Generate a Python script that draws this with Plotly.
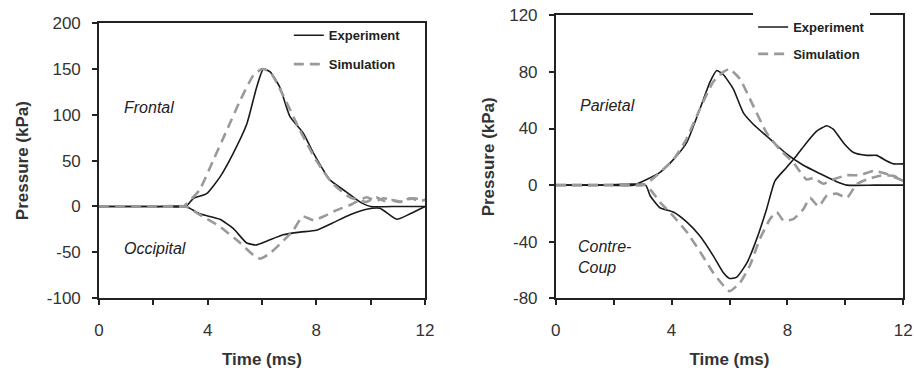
import plotly.graph_objects as go

# ---- Left panel: Frontal / Occipital ----
t_fe = [0, 2.0, 3.2, 3.47, 3.96, 4.45, 4.94, 5.44, 5.8, 6.05, 6.3, 6.66, 7.03, 7.52, 7.9, 8.5, 9.1, 9.6, 10.0, 11.0, 12]
p_fe = [0, 0, 0, 8.7, 14, 32, 58, 90, 130, 150, 147, 130, 98, 80, 58, 29, 16, 5, 0, 0, 0]

t_fs = [0, 2.0, 3.1, 3.23, 3.7, 4.2, 4.7, 5.2, 5.68, 6.0, 6.3, 6.8, 7.4, 8.0, 8.6, 9.24, 9.85, 10.2, 10.5, 10.8, 11.1, 11.45, 11.8, 12]
p_fs = [0, 0, 0, 3, 18, 50, 83, 116, 143, 150, 147, 120, 83, 50, 25, 10, 5, 10, 6, 7, 5, 9, 6, 7]

t_oe = [0, 2.0, 3.2, 3.7, 4.45, 4.94, 5.44, 5.8, 6.17, 6.78, 7.4, 8.0, 8.6, 9.24, 9.85, 10.34, 10.96, 11.45, 12]
p_oe = [0, 0, 0, -8, -14, -24, -40, -42, -38, -31, -28, -26, -18, -9, -3, -2, -14, -8, 0]

t_os = [0, 2.0, 3.2, 3.7, 4.45, 5.2, 5.68, 5.93, 6.3, 6.8, 7.15, 7.5, 7.9, 8.26, 8.75, 9.24, 9.85, 10.2, 10.47, 11.08, 11.57, 12]
p_os = [0, 0, 0, -9, -22, -40, -53, -57, -51, -37, -26, -11, -15, -11, -4, 1.5, 10, 6, 9, 5, 9, 7]

# ---- Right panel: Parietal / Contre-Coup ----
t_pe = [0, 1.5, 2.68, 3.14, 3.6, 4.06, 4.52, 4.98, 5.33, 5.56, 5.79, 6.13, 6.48, 6.82, 7.4, 7.97, 8.55, 9.13, 9.7, 10.05, 11.0, 12]
p_pe = [0, 0, 0, 4, 9, 18, 30, 54, 73, 81, 78, 68, 51, 43, 32.5, 22, 14, 8, 2.4, 0, 0, 0]

t_ps = [0, 1.5, 3.0, 3.14, 3.6, 4.06, 4.5, 4.98, 5.44, 5.79, 6.0, 6.36, 6.82, 7.28, 7.74, 8.2, 8.66, 8.9, 9.24, 9.58, 10.05, 10.5, 10.97, 11.4, 12]
p_ps = [0, 0, 0, 1, 9, 18, 32, 54, 73, 80, 82, 75, 56, 37, 25, 16, 4, 5, 1, 4, 7, 7, 10, 8, 3]

t_ce = [0, 1.5, 3.1, 3.26, 3.6, 4.06, 4.52, 4.98, 5.44, 5.79, 6.0, 6.25, 6.6, 6.94, 7.28, 7.57, 7.97, 8.32, 8.66, 9.0, 9.36, 9.58, 9.93, 10.28, 10.74, 11.08, 11.43, 11.66, 12]
p_ce = [0, 0, 0, -7.5, -16, -19, -26, -36, -50, -62, -66, -65, -55, -38, -17, 3, 12.5, 21, 30, 38, 42, 39.5, 30, 23, 21, 21, 17, 15, 15]

t_cs = [0, 1.5, 3.1, 3.26, 3.6, 4.06, 4.52, 4.98, 5.44, 5.79, 6.0, 6.36, 6.7, 7.05, 7.4, 7.63, 7.86, 8.2, 8.55, 8.78, 9.07, 9.36, 9.7, 10.05, 10.39, 10.74, 11.2, 11.66, 12]
p_cs = [0, 0, 0, -3, -12, -22, -33, -47, -62, -71, -75, -69, -57, -38, -24, -19, -25, -24, -17, -9, -15, -7.5, -6, -9, 0.7, 4, 6.6, 6.6, 3]

x_tickvals = [0, 2, 4, 6, 8, 10, 12]
x_ticktext = ["0", "", "4", "", "8", "", "12"]
y1_tickvals = [-100, -50, 0, 50, 100, 150, 200]
y1_ticktext = ["-100", "-50", "0", "50", "100", "150", "200"]
y2_tickvals = [-80, -40, 0, 40, 80, 120]
y2_ticktext = ["-80", "-40", "0", "40", "80", "120"]

EXP_COLOR = "#1a1a1a"
SIM_COLOR = "#9a9a9a"
FONT = "Liberation Sans, Arial, sans-serif"

fig = go.Figure()

def add(t, p, kind, xa, ya, legend, show):
    if kind == "exp":
        line = dict(color=EXP_COLOR, width=1.6)
        name = "<b>Experiment</b>"
        grp = "e"
    else:
        line = dict(color=SIM_COLOR, width=2.6, dash="10px,6px")
        name = "<b>Simulation</b>"
        grp = "s"
    fig.add_trace(go.Scatter(x=t, y=p, mode="lines", line=dict(shape="spline", smoothing=0.5, **line),
                             name=name, xaxis=xa, yaxis=ya, legend=legend,
                             showlegend=show, legendgroup=grp + legend))

add(t_fe, p_fe, "exp", "x", "y", "legend", True)
add(t_fs, p_fs, "sim", "x", "y", "legend", True)
add(t_oe, p_oe, "exp", "x", "y", "legend", False)
add(t_os, p_os, "sim", "x", "y", "legend", False)
add(t_pe, p_pe, "exp", "x2", "y2", "legend2", True)
add(t_ps, p_ps, "sim", "x2", "y2", "legend2", True)
add(t_ce, p_ce, "exp", "x2", "y2", "legend2", False)
add(t_cs, p_cs, "sim", "x2", "y2", "legend2", False)

axis_common = dict(showgrid=False, zeroline=False, showline=True, linecolor="#222", linewidth=1.5,
                   mirror=True, ticks="outside", ticklen=5, tickwidth=1.5, tickcolor="#222",
                   automargin=False,
                   tickfont=dict(size=17, color="#333", family=FONT))

title_font = dict(size=17, color="#333", family=FONT)

fig.update_layout(
    width=914, height=376,
    margin=dict(l=0, r=0, t=0, b=0, autoexpand=False),
    paper_bgcolor="white", plot_bgcolor="white",
    font=dict(family=FONT, color="#222"),
    xaxis=dict(domain=[0.1083, 0.465], range=[0, 12], tickvals=x_tickvals, ticktext=x_ticktext,
               ticklabelstandoff=11, anchor="y",
               title=dict(text="<b>Time (ms)</b>", font=title_font, standoff=14),
               **axis_common),
    yaxis=dict(domain=[0.2074, 0.938], range=[-100, 200], tickvals=y1_tickvals, ticktext=y1_ticktext,
               ticklabelstandoff=8, anchor="x",
               title=dict(text="<b>Pressure (kPa)</b>", font=title_font, standoff=14),
               **axis_common),
    xaxis2=dict(domain=[0.608, 0.9883], range=[0, 12], tickvals=x_tickvals, ticktext=x_ticktext,
                ticklabelstandoff=11, anchor="y2",
                title=dict(text="<b>Time (ms)</b>", font=title_font, standoff=14),
                **axis_common),
    yaxis2=dict(domain=[0.2066, 0.9593], range=[-80, 120], tickvals=y2_tickvals, ticktext=y2_ticktext,
                ticklabelstandoff=8, anchor="x2",
                title=dict(text="<b>Pressure (kPa)</b>", font=title_font, standoff=10),
                **axis_common),
    legend=dict(x=0.316, y=0.946, xanchor="left", yanchor="top", bgcolor="rgba(0,0,0,0)",
                font=dict(size=13, color="#222", family=FONT), tracegroupgap=9,
                itemwidth=30),
    legend2=dict(x=0.824, y=0.968, xanchor="left", yanchor="top", bgcolor="white",
                 font=dict(size=13, color="#222", family=FONT), tracegroupgap=7,
                 itemwidth=30),
    showlegend=True,
)

ann_font = dict(size=16, color="#222", family=FONT)
fig.add_annotation(x=0.83, y=108, xref="x", yref="y", text="<i>Frontal</i>", showarrow=False,
                   xanchor="left", font=ann_font)
fig.add_annotation(x=0.83, y=-46, xref="x", yref="y", text="<i>Occipital</i>", showarrow=False,
                   xanchor="left", font=ann_font)
fig.add_annotation(x=0.77, y=56, xref="x2", yref="y2", text="<i>Parietal</i>", showarrow=False,
                   xanchor="left", font=ann_font)
fig.add_annotation(x=0.70, y=-51, xref="x2", yref="y2", text="<i>Contre-<br>Coup</i>", showarrow=False,
                   xanchor="left", align="left", font=ann_font)

fig.write_html("out.html", config={"displayModeBar": False},
               post_script="document.body.style.margin='0';document.body.style.padding='0';")
